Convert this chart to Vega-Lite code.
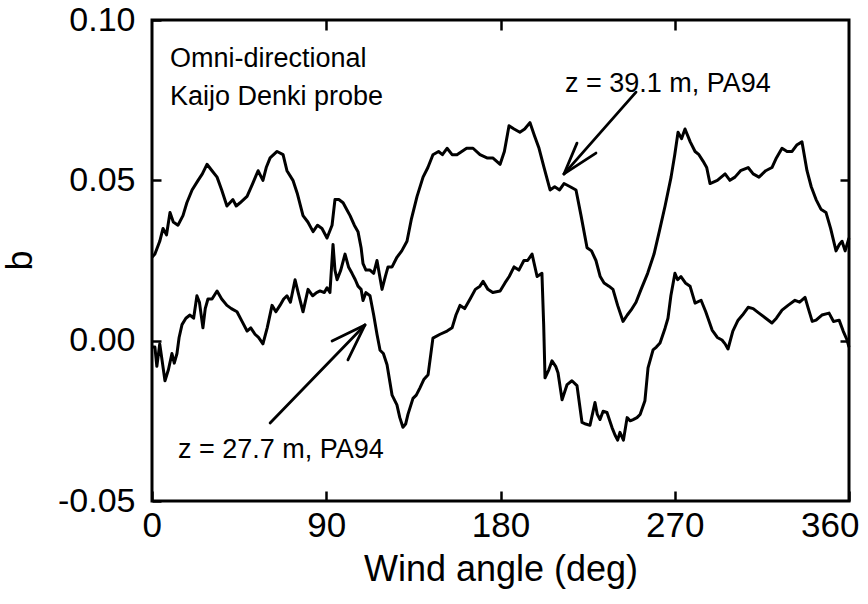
{
  "$schema": "https://vega.github.io/schema/vega-lite/v6.json",
  "width": 697,
  "height": 481,
  "autosize": {"type": "none"},
  "padding": {"left": 152, "top": 20, "right": 19, "bottom": 103},
  "background": "white",
  "config": {
    "view": {"stroke": "black", "strokeWidth": 3},
    "axis": {"grid": false, "domain": false, "tickColor": "black", "tickWidth": 2.5, "labelColor": "black", "titleColor": "black", "titleFontWeight": "normal"}
  },
  "datasets": {
    "series": [
      {"series": "z39", "angle": 0, "b": 0.026}, {"series": "z39", "angle": 1.5, "b": 0.027}, {"series": "z39", "angle": 4, "b": 0.031},
      {"series": "z39", "angle": 5.7, "b": 0.035}, {"series": "z39", "angle": 7.5, "b": 0.033}, {"series": "z39", "angle": 9.3, "b": 0.04},
      {"series": "z39", "angle": 11, "b": 0.037}, {"series": "z39", "angle": 13.4, "b": 0.036}, {"series": "z39", "angle": 16, "b": 0.039},
      {"series": "z39", "angle": 18, "b": 0.043}, {"series": "z39", "angle": 20.7, "b": 0.047}, {"series": "z39", "angle": 23.8, "b": 0.05},
      {"series": "z39", "angle": 26, "b": 0.052}, {"series": "z39", "angle": 28.4, "b": 0.055}, {"series": "z39", "angle": 31, "b": 0.053},
      {"series": "z39", "angle": 33.6, "b": 0.051}, {"series": "z39", "angle": 36, "b": 0.047}, {"series": "z39", "angle": 38.7, "b": 0.042},
      {"series": "z39", "angle": 41.8, "b": 0.044}, {"series": "z39", "angle": 43.5, "b": 0.042}, {"series": "z39", "angle": 45.5, "b": 0.043},
      {"series": "z39", "angle": 49.1, "b": 0.045}, {"series": "z39", "angle": 52, "b": 0.049}, {"series": "z39", "angle": 54.8, "b": 0.053},
      {"series": "z39", "angle": 57.3, "b": 0.05}, {"series": "z39", "angle": 59, "b": 0.054}, {"series": "z39", "angle": 61, "b": 0.057},
      {"series": "z39", "angle": 64.6, "b": 0.059}, {"series": "z39", "angle": 67.7, "b": 0.058}, {"series": "z39", "angle": 69.7, "b": 0.053},
      {"series": "z39", "angle": 72.8, "b": 0.05}, {"series": "z39", "angle": 75, "b": 0.046}, {"series": "z39", "angle": 78, "b": 0.039},
      {"series": "z39", "angle": 80.5, "b": 0.037}, {"series": "z39", "angle": 83.2, "b": 0.034}, {"series": "z39", "angle": 85.5, "b": 0.036},
      {"series": "z39", "angle": 87.8, "b": 0.035}, {"series": "z39", "angle": 90.4, "b": 0.032}, {"series": "z39", "angle": 93, "b": 0.036},
      {"series": "z39", "angle": 94.5, "b": 0.044}, {"series": "z39", "angle": 96.5, "b": 0.044}, {"series": "z39", "angle": 98.7, "b": 0.043},
      {"series": "z39", "angle": 100.5, "b": 0.041}, {"series": "z39", "angle": 102.3, "b": 0.039}, {"series": "z39", "angle": 104.5, "b": 0.036},
      {"series": "z39", "angle": 106.4, "b": 0.034}, {"series": "z39", "angle": 108, "b": 0.029}, {"series": "z39", "angle": 109, "b": 0.024},
      {"series": "z39", "angle": 110.5, "b": 0.022}, {"series": "z39", "angle": 112.6, "b": 0.022}, {"series": "z39", "angle": 114.5, "b": 0.021},
      {"series": "z39", "angle": 116.2, "b": 0.025}, {"series": "z39", "angle": 118.8, "b": 0.016}, {"series": "z39", "angle": 120.5, "b": 0.02},
      {"series": "z39", "angle": 121.9, "b": 0.023}, {"series": "z39", "angle": 124, "b": 0.023}, {"series": "z39", "angle": 126.5, "b": 0.026},
      {"series": "z39", "angle": 129, "b": 0.028}, {"series": "z39", "angle": 131.7, "b": 0.031}, {"series": "z39", "angle": 134, "b": 0.038},
      {"series": "z39", "angle": 136.9, "b": 0.045}, {"series": "z39", "angle": 140, "b": 0.051}, {"series": "z39", "angle": 142.5, "b": 0.054},
      {"series": "z39", "angle": 145.1, "b": 0.058}, {"series": "z39", "angle": 148, "b": 0.059}, {"series": "z39", "angle": 150, "b": 0.058},
      {"series": "z39", "angle": 152.4, "b": 0.06}, {"series": "z39", "angle": 155, "b": 0.058}, {"series": "z39", "angle": 157.5, "b": 0.058},
      {"series": "z39", "angle": 160, "b": 0.059}, {"series": "z39", "angle": 162.5, "b": 0.06}, {"series": "z39", "angle": 165.8, "b": 0.06},
      {"series": "z39", "angle": 169.4, "b": 0.058}, {"series": "z39", "angle": 173, "b": 0.057}, {"series": "z39", "angle": 176, "b": 0.057},
      {"series": "z39", "angle": 179.8, "b": 0.055}, {"series": "z39", "angle": 182, "b": 0.059}, {"series": "z39", "angle": 184.4, "b": 0.067},
      {"series": "z39", "angle": 187, "b": 0.066}, {"series": "z39", "angle": 190, "b": 0.065}, {"series": "z39", "angle": 192.5, "b": 0.066},
      {"series": "z39", "angle": 195.2, "b": 0.068}, {"series": "z39", "angle": 197.5, "b": 0.064}, {"series": "z39", "angle": 199.9, "b": 0.06},
      {"series": "z39", "angle": 202.5, "b": 0.054}, {"series": "z39", "angle": 205.6, "b": 0.047}, {"series": "z39", "angle": 208, "b": 0.048},
      {"series": "z39", "angle": 210.5, "b": 0.047}, {"series": "z39", "angle": 212.8, "b": 0.049}, {"series": "z39", "angle": 216, "b": 0.048},
      {"series": "z39", "angle": 219, "b": 0.047}, {"series": "z39", "angle": 221.6, "b": 0.039}, {"series": "z39", "angle": 224.7, "b": 0.029},
      {"series": "z39", "angle": 227, "b": 0.028}, {"series": "z39", "angle": 229.3, "b": 0.025}, {"series": "z39", "angle": 231.5, "b": 0.02},
      {"series": "z39", "angle": 233.5, "b": 0.018}, {"series": "z39", "angle": 236, "b": 0.017}, {"series": "z39", "angle": 238.1, "b": 0.016},
      {"series": "z39", "angle": 240.5, "b": 0.011}, {"series": "z39", "angle": 243.3, "b": 0.006}, {"series": "z39", "angle": 245.5, "b": 0.008},
      {"series": "z39", "angle": 247.4, "b": 0.0095}, {"series": "z39", "angle": 250, "b": 0.012}, {"series": "z39", "angle": 252.6, "b": 0.016},
      {"series": "z39", "angle": 256, "b": 0.021}, {"series": "z39", "angle": 259.3, "b": 0.027}, {"series": "z39", "angle": 262, "b": 0.034},
      {"series": "z39", "angle": 265, "b": 0.042}, {"series": "z39", "angle": 268.1, "b": 0.051}, {"series": "z39", "angle": 270, "b": 0.058},
      {"series": "z39", "angle": 271.7, "b": 0.065}, {"series": "z39", "angle": 273.5, "b": 0.063}, {"series": "z39", "angle": 275.3, "b": 0.066},
      {"series": "z39", "angle": 278, "b": 0.062}, {"series": "z39", "angle": 280.5, "b": 0.059}, {"series": "z39", "angle": 282.5, "b": 0.058},
      {"series": "z39", "angle": 284.6, "b": 0.056}, {"series": "z39", "angle": 286.5, "b": 0.054}, {"series": "z39", "angle": 288.2, "b": 0.049},
      {"series": "z39", "angle": 292, "b": 0.05}, {"series": "z39", "angle": 296, "b": 0.052}, {"series": "z39", "angle": 298.5, "b": 0.05},
      {"series": "z39", "angle": 301.1, "b": 0.051}, {"series": "z39", "angle": 304, "b": 0.053}, {"series": "z39", "angle": 307.9, "b": 0.054},
      {"series": "z39", "angle": 310.5, "b": 0.052}, {"series": "z39", "angle": 313.5, "b": 0.051}, {"series": "z39", "angle": 317, "b": 0.053},
      {"series": "z39", "angle": 320.2, "b": 0.054}, {"series": "z39", "angle": 322.5, "b": 0.057}, {"series": "z39", "angle": 325.4, "b": 0.06},
      {"series": "z39", "angle": 328, "b": 0.059}, {"series": "z39", "angle": 330.6, "b": 0.059}, {"series": "z39", "angle": 333, "b": 0.061},
      {"series": "z39", "angle": 335.7, "b": 0.062}, {"series": "z39", "angle": 338.3, "b": 0.053}, {"series": "z39", "angle": 340.5, "b": 0.048},
      {"series": "z39", "angle": 343, "b": 0.044}, {"series": "z39", "angle": 345.5, "b": 0.041}, {"series": "z39", "angle": 348.1, "b": 0.04},
      {"series": "z39", "angle": 350.5, "b": 0.035}, {"series": "z39", "angle": 353.3, "b": 0.028}, {"series": "z39", "angle": 355, "b": 0.03},
      {"series": "z39", "angle": 356.4, "b": 0.031}, {"series": "z39", "angle": 358, "b": 0.028}, {"series": "z39", "angle": 360, "b": 0.032},

      {"series": "z27", "angle": 0, "b": -0.002}, {"series": "z27", "angle": 1.5, "b": -0.002}, {"series": "z27", "angle": 2.5, "b": -0.008},
      {"series": "z27", "angle": 4, "b": -0.001}, {"series": "z27", "angle": 6.7, "b": -0.0125}, {"series": "z27", "angle": 8.5, "b": -0.009},
      {"series": "z27", "angle": 10.3, "b": -0.004}, {"series": "z27", "angle": 11.5, "b": -0.007}, {"series": "z27", "angle": 12.9, "b": -0.004},
      {"series": "z27", "angle": 14, "b": 0.001}, {"series": "z27", "angle": 15.5, "b": 0.005}, {"series": "z27", "angle": 17.5, "b": 0.007},
      {"series": "z27", "angle": 19.6, "b": 0.008}, {"series": "z27", "angle": 21.5, "b": 0.007}, {"series": "z27", "angle": 23.2, "b": 0.014},
      {"series": "z27", "angle": 24.5, "b": 0.012}, {"series": "z27", "angle": 26.3, "b": 0.004}, {"series": "z27", "angle": 27.5, "b": 0.01},
      {"series": "z27", "angle": 28.9, "b": 0.013}, {"series": "z27", "angle": 31, "b": 0.013}, {"series": "z27", "angle": 33.6, "b": 0.0155},
      {"series": "z27", "angle": 36, "b": 0.013}, {"series": "z27", "angle": 38.7, "b": 0.011}, {"series": "z27", "angle": 41, "b": 0.01},
      {"series": "z27", "angle": 43.9, "b": 0.009}, {"series": "z27", "angle": 46.5, "b": 0.006}, {"series": "z27", "angle": 49.1, "b": 0.003},
      {"series": "z27", "angle": 51, "b": 0.004}, {"series": "z27", "angle": 53.2, "b": 0.002}, {"series": "z27", "angle": 55, "b": 0.001},
      {"series": "z27", "angle": 57.3, "b": -0.001}, {"series": "z27", "angle": 59.5, "b": 0.004}, {"series": "z27", "angle": 62, "b": 0.011},
      {"series": "z27", "angle": 64, "b": 0.009}, {"series": "z27", "angle": 66.1, "b": 0.011}, {"series": "z27", "angle": 68, "b": 0.013},
      {"series": "z27", "angle": 69.7, "b": 0.014}, {"series": "z27", "angle": 71.5, "b": 0.012}, {"series": "z27", "angle": 73.9, "b": 0.019},
      {"series": "z27", "angle": 75.5, "b": 0.015}, {"series": "z27", "angle": 78, "b": 0.009}, {"series": "z27", "angle": 80.6, "b": 0.016},
      {"series": "z27", "angle": 83, "b": 0.014}, {"series": "z27", "angle": 85, "b": 0.015}, {"series": "z27", "angle": 86.8, "b": 0.0155},
      {"series": "z27", "angle": 89, "b": 0.015}, {"series": "z27", "angle": 90.4, "b": 0.0165}, {"series": "z27", "angle": 91.9, "b": 0.015},
      {"series": "z27", "angle": 93.5, "b": 0.03}, {"series": "z27", "angle": 94.5, "b": 0.022}, {"series": "z27", "angle": 95.6, "b": 0.019},
      {"series": "z27", "angle": 97.5, "b": 0.022}, {"series": "z27", "angle": 99.7, "b": 0.027}, {"series": "z27", "angle": 101.5, "b": 0.023},
      {"series": "z27", "angle": 103.3, "b": 0.021}, {"series": "z27", "angle": 105, "b": 0.019}, {"series": "z27", "angle": 106.4, "b": 0.017},
      {"series": "z27", "angle": 108, "b": 0.016}, {"series": "z27", "angle": 109, "b": 0.0125}, {"series": "z27", "angle": 110.5, "b": 0.015},
      {"series": "z27", "angle": 112.6, "b": 0.014}, {"series": "z27", "angle": 114.5, "b": 0.008}, {"series": "z27", "angle": 116.2, "b": 0.002},
      {"series": "z27", "angle": 117.8, "b": -0.003}, {"series": "z27", "angle": 119.5, "b": -0.004}, {"series": "z27", "angle": 121.4, "b": -0.0075},
      {"series": "z27", "angle": 124, "b": -0.017}, {"series": "z27", "angle": 126.5, "b": -0.02}, {"series": "z27", "angle": 128, "b": -0.024},
      {"series": "z27", "angle": 129.6, "b": -0.027}, {"series": "z27", "angle": 131, "b": -0.026}, {"series": "z27", "angle": 132.2, "b": -0.023},
      {"series": "z27", "angle": 134.8, "b": -0.018}, {"series": "z27", "angle": 136.5, "b": -0.017}, {"series": "z27", "angle": 138.4, "b": -0.0147},
      {"series": "z27", "angle": 140.5, "b": -0.012}, {"series": "z27", "angle": 142.6, "b": -0.0106}, {"series": "z27", "angle": 145.1, "b": 0.0008},
      {"series": "z27", "angle": 148.8, "b": 0.002}, {"series": "z27", "angle": 152.4, "b": 0.003}, {"series": "z27", "angle": 155, "b": 0.004},
      {"series": "z27", "angle": 157, "b": 0.008}, {"series": "z27", "angle": 159.1, "b": 0.011}, {"series": "z27", "angle": 161.5, "b": 0.01},
      {"series": "z27", "angle": 164.3, "b": 0.013}, {"series": "z27", "angle": 167, "b": 0.016}, {"series": "z27", "angle": 169.4, "b": 0.017},
      {"series": "z27", "angle": 171, "b": 0.0185}, {"series": "z27", "angle": 173.5, "b": 0.016}, {"series": "z27", "angle": 176, "b": 0.015},
      {"series": "z27", "angle": 179.8, "b": 0.0155}, {"series": "z27", "angle": 182.3, "b": 0.018}, {"series": "z27", "angle": 184.5, "b": 0.02},
      {"series": "z27", "angle": 187, "b": 0.023}, {"series": "z27", "angle": 189.5, "b": 0.022}, {"series": "z27", "angle": 192.1, "b": 0.025},
      {"series": "z27", "angle": 194, "b": 0.025}, {"series": "z27", "angle": 196.3, "b": 0.027}, {"series": "z27", "angle": 198.9, "b": 0.02},
      {"series": "z27", "angle": 201.4, "b": 0.021}, {"series": "z27", "angle": 202.3, "b": 0.005}, {"series": "z27", "angle": 203, "b": -0.0116},
      {"series": "z27", "angle": 205, "b": -0.009}, {"series": "z27", "angle": 206.6, "b": -0.0063}, {"series": "z27", "angle": 208.5, "b": -0.008},
      {"series": "z27", "angle": 209.7, "b": -0.01}, {"series": "z27", "angle": 211.8, "b": -0.0184}, {"series": "z27", "angle": 214.4, "b": -0.0137},
      {"series": "z27", "angle": 216.9, "b": -0.0125}, {"series": "z27", "angle": 219.5, "b": -0.014}, {"series": "z27", "angle": 222.1, "b": -0.0255},
      {"series": "z27", "angle": 224, "b": -0.026}, {"series": "z27", "angle": 226.2, "b": -0.0264}, {"series": "z27", "angle": 228.8, "b": -0.0193},
      {"series": "z27", "angle": 230, "b": -0.023}, {"series": "z27", "angle": 231.4, "b": -0.0246}, {"series": "z27", "angle": 233, "b": -0.022},
      {"series": "z27", "angle": 235, "b": -0.0224}, {"series": "z27", "angle": 237.6, "b": -0.0271}, {"series": "z27", "angle": 239.2, "b": -0.0295},
      {"series": "z27", "angle": 240.5, "b": -0.031}, {"series": "z27", "angle": 241.7, "b": -0.0286}, {"series": "z27", "angle": 243.5, "b": -0.031},
      {"series": "z27", "angle": 245.4, "b": -0.024}, {"series": "z27", "angle": 247, "b": -0.025}, {"series": "z27", "angle": 248.5, "b": -0.0246},
      {"series": "z27", "angle": 250.5, "b": -0.024}, {"series": "z27", "angle": 252.1, "b": -0.023}, {"series": "z27", "angle": 254.6, "b": -0.0187},
      {"series": "z27", "angle": 256.2, "b": -0.0085}, {"series": "z27", "angle": 258.8, "b": -0.0029}, {"series": "z27", "angle": 260.5, "b": -0.002},
      {"series": "z27", "angle": 262.4, "b": -0.0007}, {"series": "z27", "angle": 265, "b": 0.0039}, {"series": "z27", "angle": 266.5, "b": 0.007},
      {"series": "z27", "angle": 268, "b": 0.014}, {"series": "z27", "angle": 270.1, "b": 0.021}, {"series": "z27", "angle": 271.5, "b": 0.019},
      {"series": "z27", "angle": 273.2, "b": 0.02}, {"series": "z27", "angle": 275.5, "b": 0.018}, {"series": "z27", "angle": 277.9, "b": 0.017},
      {"series": "z27", "angle": 280.5, "b": 0.0117}, {"series": "z27", "angle": 283.6, "b": 0.0126}, {"series": "z27", "angle": 286, "b": 0.009},
      {"series": "z27", "angle": 289.3, "b": 0.0033}, {"series": "z27", "angle": 292, "b": 0.001}, {"series": "z27", "angle": 294.4, "b": 0.0002},
      {"series": "z27", "angle": 296, "b": -0.001}, {"series": "z27", "angle": 297.5, "b": -0.0026}, {"series": "z27", "angle": 300, "b": 0.003},
      {"series": "z27", "angle": 302.7, "b": 0.0064}, {"series": "z27", "angle": 305, "b": 0.008}, {"series": "z27", "angle": 307.9, "b": 0.0104},
      {"series": "z27", "angle": 310.5, "b": 0.01}, {"series": "z27", "angle": 313.5, "b": 0.0086}, {"series": "z27", "angle": 317, "b": 0.007},
      {"series": "z27", "angle": 320.2, "b": 0.0055}, {"series": "z27", "angle": 322.5, "b": 0.007}, {"series": "z27", "angle": 325.4, "b": 0.0095},
      {"series": "z27", "angle": 328.5, "b": 0.011}, {"series": "z27", "angle": 332.1, "b": 0.0126}, {"series": "z27", "angle": 334.5, "b": 0.012},
      {"series": "z27", "angle": 337.3, "b": 0.0135}, {"series": "z27", "angle": 339, "b": 0.01}, {"series": "z27", "angle": 341, "b": 0.006},
      {"series": "z27", "angle": 343, "b": 0.0064}, {"series": "z27", "angle": 346, "b": 0.008}, {"series": "z27", "angle": 349.7, "b": 0.0086},
      {"series": "z27", "angle": 352, "b": 0.006}, {"series": "z27", "angle": 354.9, "b": 0.0064}, {"series": "z27", "angle": 357, "b": 0.003},
      {"series": "z27", "angle": 359, "b": 0.0002}, {"series": "z27", "angle": 360, "b": -0.002}
    ],
    "arrows": [
      {"angle": 250.0, "b": 0.0775, "angle2": 212.8, "b2": 0.052},
      {"angle": 219.5, "b": 0.0616, "angle2": 212.8, "b2": 0.052},
      {"angle": 229.3, "b": 0.0585, "angle2": 212.8, "b2": 0.052},
      {"angle": 61.0, "b": -0.0257, "angle2": 110.0, "b2": 0.0049},
      {"angle": 93.0, "b": -0.0001, "angle2": 110.0, "b2": 0.0049},
      {"angle": 101.2, "b": -0.006, "angle2": 110.0, "b2": 0.0049}
    ],
    "notes": [
      {"note": "Omni-directional", "angle": 9.3, "b": 0.0853},
      {"note": "Kaijo Denki probe", "angle": 9.3, "b": 0.0735},
      {"note": "z = 39.1 m, PA94", "angle": 213.3, "b": 0.0775},
      {"note": "z = 27.7 m, PA94", "angle": 13.4, "b": -0.0366}
    ]
  },
  "layer": [
    {
      "data": {"name": "series"},
      "mark": {"type": "line", "color": "black", "strokeWidth": 3, "strokeJoin": "round"},
      "encoding": {
        "x": {
          "field": "angle", "type": "quantitative",
          "scale": {"domain": [0, 360], "nice": false, "zero": false},
          "axis": {
            "orient": "bottom", "values": [0, 90, 180, 270, 360], "tickSize": -10,
            "labelFont": "Liberation Sans, Arial", "labelFontSize": 35, "labelPadding": 17,
            "labelFlush": true, "labelFlushOffset": 10,
            "title": "Wind angle (deg)", "titleFont": "Liberation Sans, Arial", "titleFontSize": 36, "titlePadding": 9
          }
        },
        "y": {
          "field": "b", "type": "quantitative",
          "scale": {"domain": [-0.05, 0.1], "nice": false, "zero": false},
          "axis": {
            "orient": "left", "values": [-0.05, 0, 0.05, 0.1], "tickSize": -9,
            "labelExpr": "datum.value < 0 ? '-' + format(-datum.value, '.2f') : format(datum.value, '.2f')",
            "labelFont": "Liberation Sans, Arial", "labelFontSize": 34, "labelPadding": 26, "labelBaseline": "middle",
            "title": "b", "titleFont": "Liberation Sans, Arial", "titleFontSize": 36,
            "titleAngle": -90, "titleX": -121, "titleY": 240, "titleAlign": "center", "titleBaseline": "alphabetic"
          }
        },
        "detail": {"field": "series", "type": "nominal"}
      }
    },
    {
      "data": {"name": "arrows"},
      "mark": {"type": "rule", "color": "black", "strokeWidth": 2.8, "strokeCap": "round"},
      "encoding": {
        "x": {"field": "angle", "type": "quantitative", "axis": {"orient": "top", "values": [90, 180, 270], "tickSize": -10, "labels": false, "title": null}},
        "y": {"field": "b", "type": "quantitative", "axis": {"orient": "right", "values": [0, 0.05], "tickSize": -9, "labels": false, "title": null}},
        "x2": {"field": "angle2"},
        "y2": {"field": "b2"}
      }
    },
    {
      "data": {"name": "notes"},
      "mark": {"type": "text", "align": "left", "baseline": "alphabetic", "font": "Liberation Sans, Arial", "fontSize": 27, "color": "black"},
      "encoding": {
        "x": {"field": "angle", "type": "quantitative", "axis": null},
        "y": {"field": "b", "type": "quantitative", "axis": null},
        "text": {"field": "note"}
      }
    }
  ],
  "resolve": {"axis": {"x": "independent", "y": "independent"}}
}
